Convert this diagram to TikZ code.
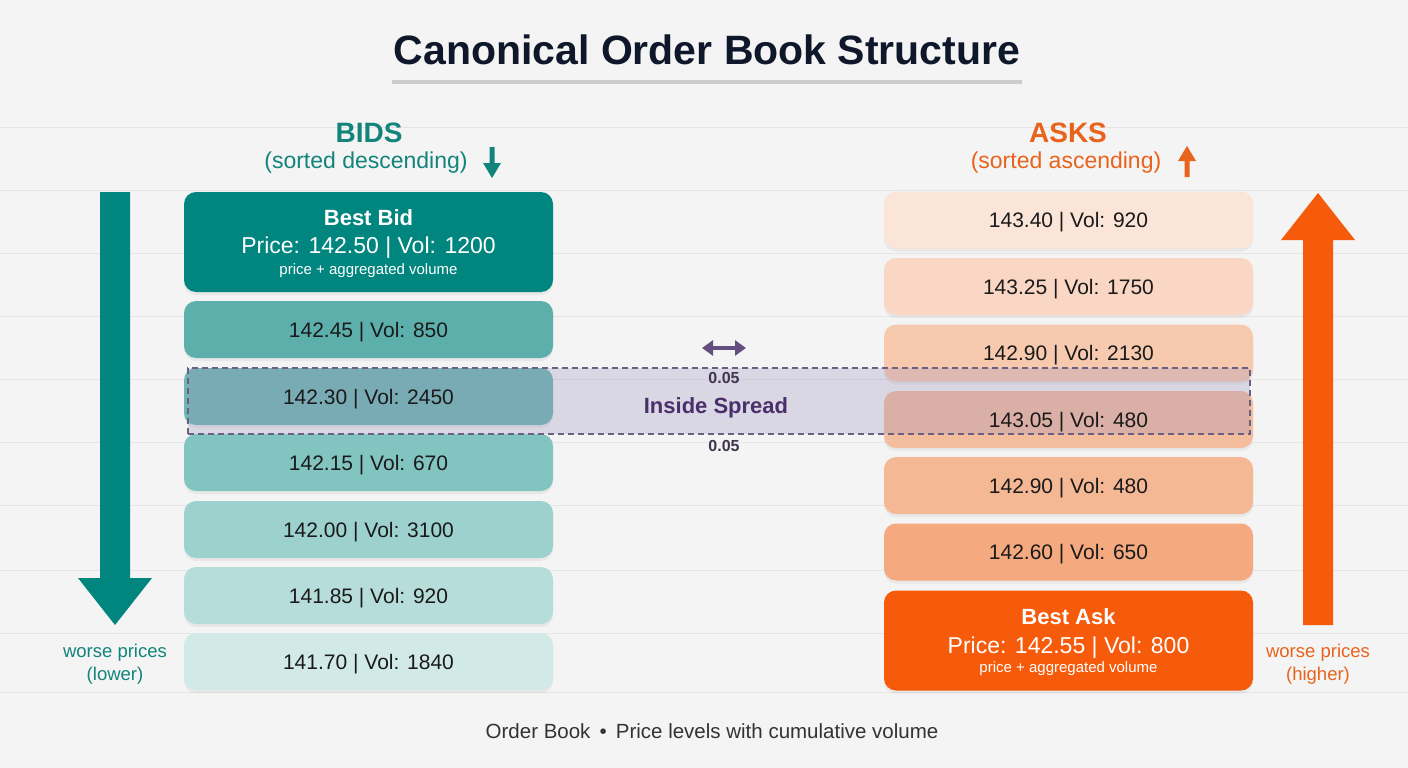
\documentclass[tikz,border=0pt]{standalone}
\usepackage{fontspec}
\setmainfont{Liberation Sans}
\usetikzlibrary{shadows,arrows.meta}
\definecolor{bgc}{HTML}{F4F4F4}
\definecolor{gridc}{HTML}{E5E5E5}
\definecolor{navy}{HTML}{0F172A}
\definecolor{tealH}{HTML}{12847C}
\definecolor{tealB}{HTML}{00857F}
\definecolor{orangeH}{HTML}{E8631C}
\definecolor{orangeB}{HTML}{F55B0A}
\definecolor{txtdark}{HTML}{1A1A1A}
\definecolor{spreadfill}{HTML}{978CB9}
\definecolor{spreadline}{HTML}{6B6080}
\definecolor{spreadtxt}{HTML}{4A2F6A}
\definecolor{spreadnum}{HTML}{3F3550}
\definecolor{bidA}{HTML}{5DAFAB}
\definecolor{bidB}{HTML}{6DB7B3}
\definecolor{bidC}{HTML}{82C4C0}
\definecolor{bidD}{HTML}{9CD1CD}
\definecolor{bidE}{HTML}{B6DDDA}
\definecolor{bidF}{HTML}{D1E9E7}
\definecolor{askA}{HTML}{FBE4D8}
\definecolor{askB}{HTML}{F9D7C4}
\definecolor{askC}{HTML}{F7CAB0}
\definecolor{askD}{HTML}{F4BD9E}
\definecolor{askE}{HTML}{F5B895}
\definecolor{askF}{HTML}{F4A97F}
\newcommand{\fsz}[2]{\fontsize{#1}{#2}\selectfont}
\begin{document}
\begin{tikzpicture}[x=1pt,y=-1pt,
  rowbox/.style={rounded corners=12pt, minimum width=369pt, minimum height=57pt, inner sep=0pt,
    font=\fsz{21}{25}, text=txtdark, text height=15pt, text depth=0pt,
    drop shadow={shadow xshift=0pt, shadow yshift=-3pt, opacity=0.10}},
  bestbox/.style={rowbox, minimum height=100pt},
  rowtxt/.style={font=\fsz{21}{25}, text=txtdark, text height=15pt, text depth=0pt, inner sep=0pt},
  hdr/.style={font=\fsz{28}{32}\bfseries, inner sep=0pt},
  sub/.style={font=\fsz{23}{27}, inner sep=0pt},
  side/.style={font=\fsz{18.5}{23}, align=center, inner sep=0pt},
  wtxt/.style={text=white, inner sep=0pt},
  gridline/.style={draw=gridc, line width=1pt}]
\fill[bgc] (0,0) rectangle (1408,768);
\useasboundingbox (0,0) rectangle (1408,768);
\foreach \yy in {127,190,253,316,379,442,505,570,633,692}
  \draw[gridline] (0,\yy) -- (1408,\yy);

% title
\node[font=\fsz{41}{48}\bfseries, text=navy, inner sep=0pt] (title) at (707,50) {Canonical Order Book Structure};
\draw[line width=4pt, draw=black!20] (392,82) -- (1022,82);

% headers
\node[hdr, text=tealH] (bidh) at (369,133) {BIDS};
\node[sub, text=tealH] (bids) at (366,162.5) {(sorted descending)};
\fill[tealH] (489.5,147)--(494.5,147)--(494.5,163)--(501,163)--(492,178)--(483,163)--(489.5,163)--cycle;
\node[hdr, text=orangeH] (askh) at (1068,133) {ASKS};
\node[sub, text=orangeH] (asks) at (1066,162.5) {(sorted ascending)};
\fill[orangeH] (1184.5,177)--(1189.5,177)--(1189.5,161)--(1196,161)--(1187,146)--(1178,161)--(1184.5,161)--cycle;

% big arrows
\fill[tealB] (100,192) -- (130,192) -- (130,578) -- (152,578) -- (115,625) -- (78,578) -- (100,578) -- cycle;
\fill[orangeB] (1303,625) -- (1333,625) -- (1333,240) -- (1355,240) -- (1318,193) -- (1281,240) -- (1303,240) -- cycle;
\node[side, text=tealH] (wl) at (115,664) {worse prices\\(lower)};
\node[side, text=orangeH] (wr) at (1318,664) {worse prices\\(higher)};

% bids
\node[bestbox, fill=tealB] (bestbid) at (368.5,242) {};
\node[wtxt, font=\fsz{22}{26}\bfseries] (bbt) at (368.5,217.5) {Best Bid};
\node[wtxt, font=\fsz{23}{27}, text height=16.5pt, text depth=0pt] (bbp) at (368.5,245.5) {Price: 142.50 | Vol: 1200};
\node[wtxt, font=\fsz{15}{18}] (bbv) at (368.5,270.5) {price + aggregated volume};
\node[rowbox, fill=bidA] (b1) at (368.5,329.5) {142.45 | Vol: 850};
\node[rowbox, fill=bidB] (b2) at (368.5,396.5) {};
\node[rowbox, fill=bidC] (b3) at (368.5,462.5) {142.15 | Vol: 670};
\node[rowbox, fill=bidD] (b4) at (368.5,529.5) {142.00 | Vol: 3100};
\node[rowbox, fill=bidE] (b5) at (368.5,595.5) {141.85 | Vol: 920};
\node[rowbox, fill=bidF] (b6) at (368.5,661.5) {141.70 | Vol: 1840};

% asks
\node[rowbox, fill=askA] (a1) at (1068.5,220) {143.40 | Vol: 920};
\node[rowbox, fill=askB] (a2) at (1068.5,286.5) {143.25 | Vol: 1750};
\node[rowbox, fill=askC] (a3) at (1068.5,353) {142.90 | Vol: 2130};
\node[rowbox, fill=askD] (a4) at (1068.5,419.5) {};
\node[rowbox, fill=askE] (a5) at (1068.5,485.5) {142.90 | Vol: 480};
\node[rowbox, fill=askF] (a6) at (1068.5,552) {142.60 | Vol: 650};
\node[bestbox, fill=orangeB] (bestask) at (1068.5,640.5) {};
\node[wtxt, font=\fsz{22}{26}\bfseries] (bat) at (1068.5,616.5) {Best Ask};
\node[wtxt, font=\fsz{23}{27}, text height=16.5pt, text depth=0pt] (bap) at (1068.5,645.5) {Price: 142.55 | Vol: 800};
\node[wtxt, font=\fsz{15}{18}] (bav) at (1068.5,668.5) {price + aggregated volume};

% spread
\node[draw=spreadline, line width=1.5pt, dash pattern=on 6pt off 4pt, fill=spreadfill, fill opacity=0.27,
  minimum width=1062pt, minimum height=66pt, inner sep=0pt] (spread) at (719,401) {};
\node[rowtxt] (b2t) at (b2) {142.30 | Vol: 2450};
\node[rowtxt] (a4t) at (a4) {143.05 | Vol: 480};
\node[font=\fsz{22}{26}\bfseries, text=spreadtxt, inner sep=0pt, text height=16pt, text depth=0pt] (spl) at (716,405) {Inside Spread};
\node[font=\fsz{16}{19}\bfseries, text=spreadnum, inner sep=0pt] (n1) at (724,378) {0.05};
\node[font=\fsz{16}{19}\bfseries, text=spreadnum, inner sep=0pt] (n2) at (724,446) {0.05};
\coordinate (dl) at (702,348);
\coordinate (dr) at (746,348);
\draw[draw=spreadtxt!85, line width=4pt, {Triangle[length=11pt,width=15pt]}-{Triangle[length=11pt,width=15pt]}] (dl) -- (dr);

% footer
\node[font=\fsz{20.5}{24}, text=black!80, inner sep=0pt] (foot) at (712,731) {Order Book \,•\, Price levels with cumulative volume};
\end{tikzpicture}
\end{document}
